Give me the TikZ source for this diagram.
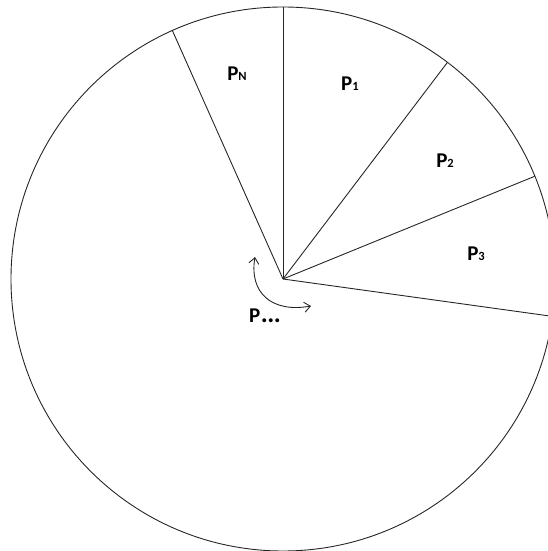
\documentclass[tikz,border=0pt]{standalone}
\usepackage{fontspec}
\setmainfont{Carlito}
\usetikzlibrary{arrows.meta,calc}
\tikzset{
  edge/.style={line width=0.9pt, black!85},
  lbl/.style={font=\fontsize{21}{21}\selectfont\bfseries, inner sep=0pt},
  turn/.style={line width=0.9pt, black!85, {Straight Barb[length=6pt,width=10pt]}-{Straight Barb[length=6pt,width=10pt]}}
}
\newcommand{\sbx}[1]{{\fontsize{12.5}{12.5}\selectfont #1}}
\begin{document}
\begin{tikzpicture}[x=1pt,y=1pt]
\useasboundingbox (0,0) rectangle (547,551);
\coordinate (c) at (283,272);
\draw[edge] (c) circle (272);
\coordinate (a0) at ($(c)+(90:272)$);
\coordinate (a1) at ($(c)+(52.8:272)$);
\coordinate (a2) at ($(c)+(22.2:272)$);
\coordinate (a3) at ($(c)+(-7.9:272)$);
\coordinate (aN) at ($(c)+(114:272)$);
\draw[edge] (c) -- (a0);
\draw[edge] (c) -- (a1);
\draw[edge] (c) -- (a2);
\draw[edge] (c) -- (a3);
\draw[edge] (c) -- (aN);
\node[lbl] (pN) at (237,477) {P\sbx{N}};
\node[lbl] (p1) at (350,467) {P\sbx{1}};
\node[lbl] (p2) at (445,390) {P\sbx{2}};
\node[lbl] (p3) at (476,297) {P\sbx{3}};
\node[lbl] (pd) at (265,235) {P\kern0.5pt\scalebox{1.25}{.}\kern-0.5pt\scalebox{1.25}{.}\kern-0.5pt\scalebox{1.25}{.}};
\coordinate (t1) at (255,294);
\coordinate (t2) at (311,245);
\draw[turn] (t1) .. controls (249,258) and (272,238) .. (t2);
\end{tikzpicture}
\end{document}
